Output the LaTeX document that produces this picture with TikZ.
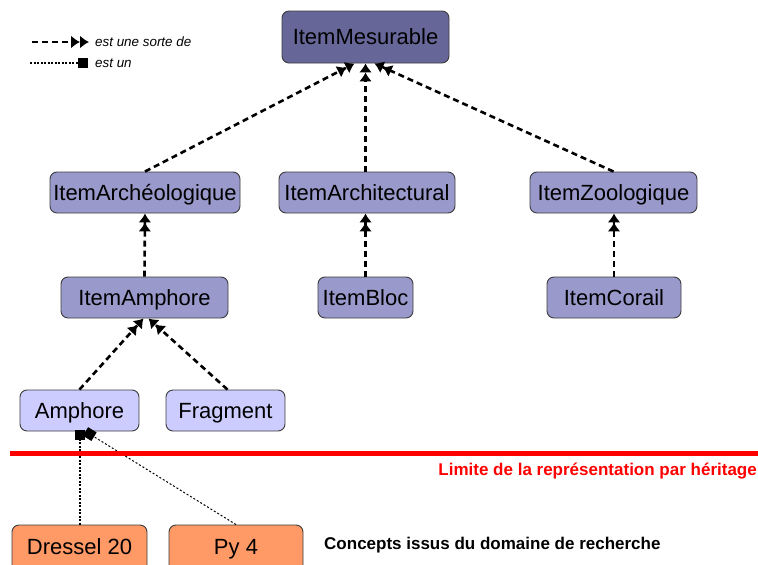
\documentclass[tikz,border=0pt]{standalone}
\usepackage{fontspec}
\setmainfont{Liberation Sans}
\usetikzlibrary{arrows.meta}
\definecolor{cTop}{RGB}{102,102,153}
\definecolor{cMid}{RGB}{153,153,204}
\definecolor{cLow}{RGB}{204,204,255}
\definecolor{cOr}{RGB}{255,153,102}
\definecolor{cBorder}{RGB}{60,60,60}
\begin{document}
\begin{tikzpicture}[x=1pt,y=-1pt,
  box/.style={draw=cBorder, rounded corners=7pt, line width=0.9pt, inner sep=0pt,
    minimum height=41pt, text height=15.8pt, text depth=0pt,
    font=\fontsize{22}{26}\selectfont},
  isa/.style={line width=2.6pt, dash pattern=on 6pt off 4pt,
    -{Latex[length=9pt,width=13pt]Latex[length=9pt,width=13pt]}},
  inst/.style={line width=2pt, dash pattern=on 2pt off 1.5pt,
    -{Square[length=10pt,width=10pt]}},
  instthin/.style={line width=1pt, dash pattern=on 2pt off 2pt,
    -{Square[length=10pt,width=10pt]}},
  legtxt/.style={anchor=west, inner sep=0pt, font=\fontsize{13.4}{16}\selectfont\itshape},
  bold17/.style={inner sep=0pt, font=\fontsize{17}{20}\selectfont\bfseries}]
\useasboundingbox (0,0) rectangle (758,565);
\clip (0,0) rectangle (758,565);

% legend
\coordinate (la1) at (32,42);
\coordinate (lb1) at (89,42);
\draw[isa] (la1) -- (lb1);
\node[legtxt] (lt1) at (95,42) {est une sorte de};
\coordinate (la2) at (30,63);
\coordinate (lb2) at (80,63);
\draw[line width=2pt, dash pattern=on 2pt off 1.5pt] (la2) -- (lb2);
\node[fill=black, minimum size=10pt, inner sep=0pt] (sq) at (83,63) {};
\node[legtxt] (lt2) at (95,63) {est un};

% nodes
\node[box, fill=cTop, minimum width=167pt, minimum height=52pt] (mes) at (365.5,37) {ItemMesurable};
\node[box, fill=cMid, minimum width=190pt] (arch) at (145,192.5) {ItemArchéologique};
\node[box, fill=cMid, minimum width=176pt] (archi) at (367,192.5) {ItemArchitectural};
\node[box, fill=cMid, minimum width=167pt] (zoo) at (613.5,192.5) {ItemZoologique};
\node[box, fill=cMid, minimum width=167pt] (iamph) at (144.5,297.5) {ItemAmphore};
\node[box, fill=cMid, minimum width=95pt] (bloc) at (365.5,297.5) {ItemBloc};
\node[box, fill=cMid, minimum width=134pt] (cor) at (614,297.5) {ItemCorail};
\node[box, fill=cLow, minimum width=119pt] (amph) at (79.5,410.5) {Amphore};
\node[box, fill=cLow, minimum width=119pt] (frag) at (225.5,410.5) {Fragment};
\node[box, fill=cOr, minimum width=135pt, minimum height=50pt] (dres) at (79.5,550) {\raisebox{3pt}{Dressel 20}};
\node[box, fill=cOr, minimum width=134pt, minimum height=50pt] (py) at (236,550) {\raisebox{3pt}{Py 4}};

% isa arrows
\draw[isa] (arch.north) -- ([xshift=-11pt]mes.south);
\draw[isa] (archi.north -| mes.south) -- (mes.south);
\draw[isa] (zoo.north) -- ([xshift=9pt]mes.south);
\draw[isa] (iamph.north) -- (arch.south);
\draw[isa] (bloc.north) -- (bloc.north |- archi.south);
\draw[isa] (cor.north) -- (cor.north |- zoo.south);
\draw[isa] (amph.north) -- ([xshift=-1pt]iamph.south);
\draw[isa] ([xshift=2pt]frag.north) -- ([xshift=4pt]iamph.south);

% instance links
\draw[instthin] (py.north) -- ([xshift=6pt]amph.south);
\draw[inst] (dres.north) -- ([yshift=1pt]amph.south);

% limit
\coordinate (r1) at (10,453);
\coordinate (r2) at (758,453);
\draw[red, line width=5pt] (r1) -- (r2);
\node[bold17, text=red, anchor=east] (lim) at (757,471) {Limite de la représentation par héritage};
\node[bold17, anchor=west] (conc) at (324,545) {Concepts issus du domaine de recherche};
\end{tikzpicture}
\end{document}
